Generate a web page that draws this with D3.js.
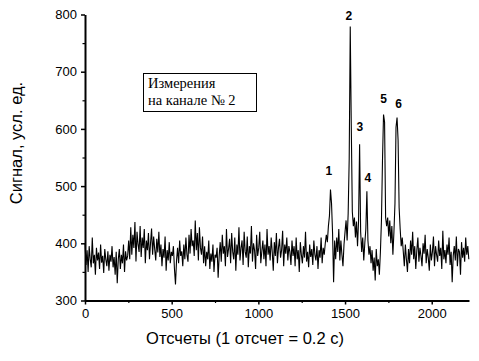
<!DOCTYPE html>
<html><head><meta charset="utf-8">
<script src="https://cdn.jsdelivr.net/npm/d3@7"></script>
<style>body{margin:0;background:#fff}svg{display:block}</style>
</head><body>
<script>
// sampling interval (counts between plotted samples)
const step = 6;
// signal values, one per sample
const signal = [
 // 0..246
 400,362,388,350,395,372,358,410,365,380,345,392,370,384,355,398,366,378,348,390,372,360,386,352,380,368,395,358,376,345,385,330,372,390,355,380,365,398,350,386,370,378,
 // 252..432
 405,372,428,380,415,392,437,368,420,398,385,430,376,410,392,425,365,405,388,418,372,400,426,380,412,390,370,408,384,420,376,
 // 438..510
 398,360,390,375,412,352,388,370,402,365,385,378,395,
 355,328,370,
 392,365,405,378,386,360,398,372,410,380,368,
 415,382,425,395,405,378,440,388,418,370,428,392,380,412,365,
 395,360,385,372,405,355,382,368,398,350,380,375,392,340,378,
 402,368,415,382,395,360,425,376,390,408,365,418,385,372,410,352,398,380,428,370,
 392,405,362,420,385,375,412,358,395,382,430,368,400,388,355,415,378,392,420,365,
 386,405,372,398,360,425,380,395,370,410,385,352,402,378,418,365,392,408,375,388,
 422,360,398,382,410,370,395,385,362,405,
 378,395,360,410,372,388,350,402,380,365,395,375,420,368,385,358,398,376,390,362,
 405,380,370,395,355,388,375,410,365,392,380,400,415,
 // peak 1
 402,430,448,494,470,418,332,405,372,
 410,385,425,370,405,380,360,398,420,
 // peaks 2,3,4
 440,405,452,548,779,604,455,430,445,410,438,395,440,573,420,385,410,370,400,425,491,405,380,
 395,365,388,352,375,335,390,360,372,345,385,
 // peaks 5,6
 440,545,625,612,445,430,445,412,440,400,430,380,420,470,603,620,580,462,425,395,410,
 // tail
 385,360,398,372,350,390,365,405,380,420,372,395,355,388,410,368,392,378,360,400,
 382,415,365,390,375,352,398,370,385,412,360,395,380,368,405,378,392,355,422,372,
 388,365,398,380,410,362,385,332,378,395,370,412,360,390,385,345,402,375,392,368,
 410,380,395,372
];
const xTicks = [0, 500, 1000, 1500, 2000];
const yTicks = [300, 400, 500, 600, 700, 800];
const xMinor = [250, 750, 1250, 1750];
const yMinor = [350, 450, 550, 650, 750];
const peakNames = ["1", "2", "3", "4", "5", "6"];
const peakLabelX = [1407, 1522, 1586, 1632, 1723, 1809];
const peakLabelY = [527, 798, 604, 515, 653, 643];
const xTitle = "Отсчеты (1 отсчет = 0.2 с)";
const yTitle = "Сигнал,  усл. ед.";
const legendLines = ["Измерения", "на канале № 2"];

const W = 479, H = 361;
const svg = d3.select("body").append("svg").attr("width", W).attr("height", H);
const x = d3.scaleLinear().domain([0, 2215]).range([85, 469]);
const y = d3.scaleLinear().domain([300, 800]).range([300.5, 14.5]);

const line = d3.line().x((d, i) => x(i * step)).y(d => y(d));
svg.append("path").datum(signal).attr("d", line)
  .attr("fill", "none").attr("stroke", "#000").attr("stroke-width", 1.1);

const font = "'Liberation Sans', Arial, sans-serif";
// x axis
const gx = svg.append("g").attr("transform", `translate(0,${y(300)})`)
  .call(d3.axisBottom(x).tickValues(xTicks).tickSize(4).tickSizeOuter(0).tickPadding(4).tickFormat(d3.format("d")));
const gxm = svg.append("g").attr("transform", `translate(0,${y(300)})`)
  .call(d3.axisBottom(x).tickValues(xMinor).tickSize(2.5).tickSizeOuter(0).tickFormat(""));
gxm.select(".domain").remove();
// y axis
const gy = svg.append("g").attr("transform", `translate(${x(0)},0)`)
  .call(d3.axisLeft(y).tickValues(yTicks).tickSize(4).tickSizeOuter(0).tickPadding(4).tickFormat(d3.format("d")));
const gym = svg.append("g").attr("transform", `translate(${x(0)},0)`)
  .call(d3.axisLeft(y).tickValues(yMinor).tickSize(2.5).tickSizeOuter(0).tickFormat(""));
gym.select(".domain").remove();
[gx, gy].forEach(g => {
  g.select(".domain").attr("stroke", "#000").attr("stroke-width", 2);
  g.selectAll(".tick line").attr("stroke", "#000").attr("stroke-width", 1.5);
  g.selectAll(".tick text").attr("fill", "#000").style("font-family", font).style("font-size", "13px");
});
[gxm, gym].forEach(g => g.selectAll(".tick line").attr("stroke", "#000").attr("stroke-width", 1.2));

svg.append("text").attr("x", 245).attr("y", 344).attr("text-anchor", "middle")
  .style("font-family", font).style("font-size", "16.5px").text(xTitle);
svg.append("text").attr("transform", "translate(22,143) rotate(-90)").attr("text-anchor", "middle")
  .style("font-family", font).style("font-size", "16.5px").text(yTitle);

// peak labels
svg.selectAll("text.peak").data(peakNames).enter().append("text").attr("class", "peak")
  .attr("x", (d, i) => x(peakLabelX[i])).attr("y", (d, i) => y(peakLabelY[i]))
  .attr("text-anchor", "middle").attr("dominant-baseline", "central")
  .style("font-family", font).style("font-size", "12px").style("font-weight", "bold").text(d => d);

// inset box
svg.append("rect").attr("x", 143.5).attr("y", 73.5).attr("width", 113).attr("height", 38)
  .attr("fill", "#fff").attr("stroke", "#000").attr("stroke-width", 1);
svg.selectAll("text.leg").data(legendLines).enter().append("text").attr("class", "leg")
  .attr("x", 148).attr("y", (d, i) => 88 + i * 17)
  .style("font-family", "'Liberation Serif', serif").style("font-size", "14.5px").text(d => d);
</script>
</body></html>
